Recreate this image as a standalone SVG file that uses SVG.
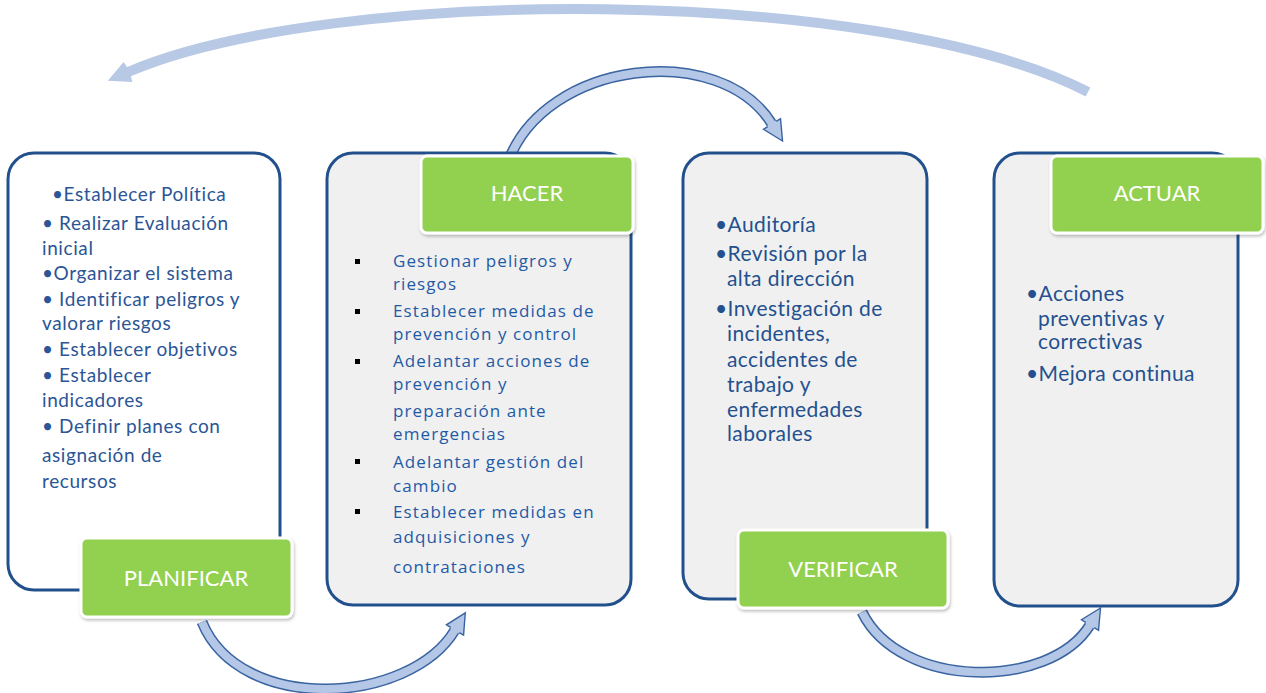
<svg xmlns="http://www.w3.org/2000/svg" width="1266" height="693" viewBox="0 0 1266 693">
<style>
.box{stroke:#22508c;stroke-width:3}
.lab{fill:#92d050;stroke:#ffffff;stroke-width:3}
.labt{font-family:Lato,"Open Sans",sans-serif;font-size:22px;fill:#ffffff;text-anchor:middle}
.t1{font-family:Lato,"Open Sans",sans-serif;font-size:19px;letter-spacing:0.6px;fill:#2b5596}
.t2{font-family:"Open Sans",Lato,sans-serif;font-size:17px;letter-spacing:1.1px;fill:#1f5aa6}
.t3{font-family:Lato,"Open Sans",sans-serif;font-size:21px;letter-spacing:0.4px;fill:#24508f}
.out{fill:none;stroke:#3a64a0;stroke-width:11}
.in{fill:none;stroke:#b4c7e7;stroke-width:8}
</style>
<defs>
<filter id="sh" x="-10%" y="-10%" width="125%" height="130%">
<feDropShadow dx="1" dy="2" stdDeviation="1.5" flood-color="#000" flood-opacity="0.25"/>
</filter>
<marker id="ah" markerUnits="userSpaceOnUse" viewBox="-2 -12 26 24" refX="0" refY="0" markerWidth="26" markerHeight="24" orient="auto">
<polygon points="-1,-4.5 0,-10 20,0 0,10 -1,4.5" fill="#b4c7e7"/>
<polyline points="0,-5 0,-10 20,0 0,10 0,5" fill="none" stroke="#3a64a0" stroke-width="1.4"/>
</marker>
<marker id="ah2" markerUnits="userSpaceOnUse" viewBox="-2 -14 28 28" refX="0" refY="0" markerWidth="28" markerHeight="28" orient="auto">
<polygon points="-1,-5 0,-11 22,0 0,11 -1,5" fill="#b8c9e5"/>
</marker>
</defs>

<g id="connectors">
<path d="M 1088 92 C 880 -15, 330 -15, 128 72" fill="none" stroke="#b8c9e5" stroke-width="10" marker-end="url(#ah2)"/>
<path class="out" d="M 508 162 C 545 60, 720 40, 772 124"/>
<path class="in" d="M 508 162 C 545 60, 720 40, 772 124" marker-end="url(#ah)"/>
<path class="out" d="M 202 622 C 240 715, 410 705, 455 630"/>
<path class="in" d="M 202 622 C 240 715, 410 705, 455 630" marker-end="url(#ah)"/>
<path class="out" d="M 862 612 C 900 690, 1050 690, 1090 625"/>
<path class="in" d="M 862 612 C 900 690, 1050 690, 1090 625" marker-end="url(#ah)"/>
</g>

<g id="planificar">
<rect class="box" x="8" y="153" width="272" height="437" rx="26" fill="#ffffff"/>
<text class="t1">
<tspan x="52" y="201">•Establecer Política</tspan>
<tspan x="42" y="230">• Realizar Evaluación</tspan>
<tspan x="42" y="255">inicial</tspan>
<tspan x="42" y="280">•Organizar el sistema</tspan>
<tspan x="42" y="306">• Identificar peligros y</tspan>
<tspan x="42" y="330">valorar riesgos</tspan>
<tspan x="42" y="356">• Establecer objetivos</tspan>
<tspan x="42" y="382">• Establecer</tspan>
<tspan x="42" y="407">indicadores</tspan>
<tspan x="42" y="433">• Definir planes con</tspan>
<tspan x="42" y="462">asignación de</tspan>
<tspan x="42" y="488">recursos</tspan>
</text>
<rect class="lab" x="81" y="538" width="211" height="79" rx="6" filter="url(#sh)"/>
<text class="labt" x="186" y="586">PLANIFICAR</text>
</g>

<g id="hacer">
<rect class="box" x="327" y="153" width="304" height="452" rx="26" fill="#f0f0f0"/>
<rect class="lab" x="421" y="156" width="212" height="77" rx="6" filter="url(#sh)"/>
<text class="labt" x="527" y="201">HACER</text>
<g fill="#000000">
<rect x="355" y="259" width="5" height="5"/>
<rect x="355" y="309" width="5" height="5"/>
<rect x="355" y="359" width="5" height="5"/>
<rect x="355" y="459" width="5" height="5"/>
<rect x="355" y="509" width="5" height="5"/>
</g>
<text class="t2">
<tspan x="393" y="267">Gestionar peligros y</tspan>
<tspan x="393" y="290">riesgos</tspan>
<tspan x="393" y="317">Establecer medidas de</tspan>
<tspan x="393" y="340">prevención y control</tspan>
<tspan x="393" y="367">Adelantar acciones de</tspan>
<tspan x="393" y="390">prevención y</tspan>
<tspan x="393" y="417">preparación ante</tspan>
<tspan x="393" y="440">emergencias</tspan>
<tspan x="393" y="468">Adelantar gestión del</tspan>
<tspan x="393" y="492">cambio</tspan>
<tspan x="393" y="518">Establecer medidas en</tspan>
<tspan x="393" y="543">adquisiciones y</tspan>
<tspan x="393" y="573">contrataciones</tspan>
</text>
</g>

<g id="verificar">
<rect class="box" x="683" y="153" width="244" height="446" rx="26" fill="#f0f0f0"/>
<text class="t3">
<tspan x="715" y="232">•Auditoría</tspan>
<tspan x="715" y="261">•Revisión por la</tspan>
<tspan x="727" y="286">alta dirección</tspan>
<tspan x="715" y="316">•Investigación de</tspan>
<tspan x="727" y="341">incidentes,</tspan>
<tspan x="727" y="367">accidentes de</tspan>
<tspan x="727" y="392">trabajo y</tspan>
<tspan x="727" y="417">enfermedades</tspan>
<tspan x="727" y="441">laborales</tspan>
</text>
<rect class="lab" x="738" y="530" width="210" height="78" rx="6" filter="url(#sh)"/>
<text class="labt" x="843" y="577">VERIFICAR</text>
</g>

<g id="actuar">
<rect class="box" x="994" y="153" width="244" height="453" rx="26" fill="#f0f0f0"/>
<rect class="lab" x="1051" y="156" width="212" height="77" rx="6" filter="url(#sh)"/>
<text class="labt" x="1157" y="201">ACTUAR</text>
<text class="t3">
<tspan x="1026" y="301">•Acciones</tspan>
<tspan x="1038" y="326">preventivas y</tspan>
<tspan x="1038" y="349">correctivas</tspan>
<tspan x="1026" y="381">•Mejora continua</tspan>
</text>
</g>
</svg>
